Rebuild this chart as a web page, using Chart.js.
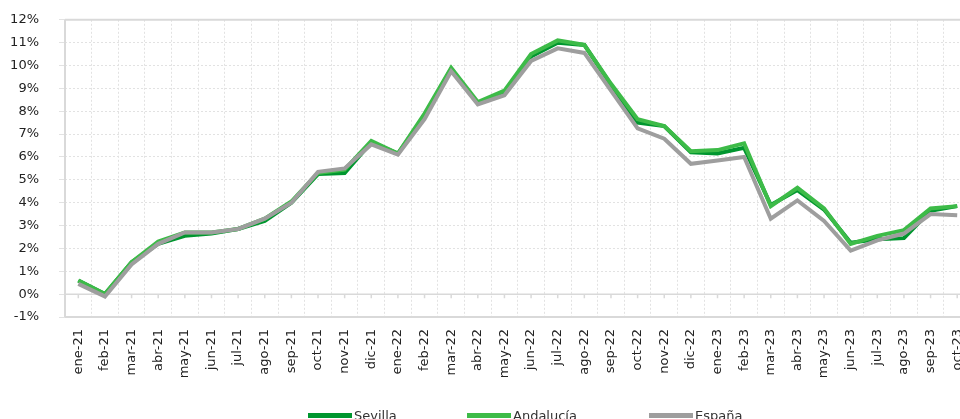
<!DOCTYPE html>
<html lang="es">
<head>
<meta charset="utf-8">
<title>IPC Sevilla, Andalucía, España</title>
<script src="https://cdn.jsdelivr.net/npm/chart.js@4.4.1/dist/chart.umd.min.js"></script>
<style>
  html, body { margin: 0; padding: 0; background: #fff; overflow: hidden; }
  #wrap { position: relative; width: 960px; height: 419px; overflow: hidden; }
  #chart { position: absolute; left: 0; top: -8px; }
  #legend { position: absolute; left: 0; top: 406px; width: 960px; height: 20px; font: 13px "DejaVu Sans", sans-serif; color: #333; }
  #legend .item { position: absolute; top: 0; display: flex; align-items: center; height: 18px; white-space: nowrap; }
  #legend .swatch { width: 44px; height: 5px; margin-right: 2px; }
</style>
</head>
<body>
<div id="wrap">
  <canvas id="chart" width="985" height="419" style="width:985px;height:419px"></canvas>
  <div id="legend"></div>
</div>
<script>
const months = [
    'ene-21', 'feb-21', 'mar-21', 'abr-21', 'may-21', 'jun-21', 'jul-21', 'ago-21', 'sep-21', 'oct-21', 'nov-21', 'dic-21',
    'ene-22', 'feb-22', 'mar-22', 'abr-22', 'may-22', 'jun-22', 'jul-22', 'ago-22', 'sep-22', 'oct-22', 'nov-22', 'dic-22',
    'ene-23', 'feb-23', 'mar-23', 'abr-23', 'may-23', 'jun-23', 'jul-23', 'ago-23', 'sep-23', 'oct-23'
];

const sevilla = [
    0.6, 0.0, 1.4, 2.2, 2.55, 2.65, 2.85, 3.2, 4.0, 5.25, 5.3, 6.65,
    6.15, 7.8, 9.85, 8.35, 8.85, 10.4, 11.0, 10.9, 9.15, 7.5, 7.35, 6.2,
    6.15, 6.4, 3.9, 4.55, 3.7, 2.25, 2.4, 2.45, 3.65, 3.85
];
const andalucia = [
    0.6, 0.0, 1.4, 2.3, 2.7, 2.7, 2.85, 3.3, 4.05, 5.3, 5.45, 6.7,
    6.15, 7.9, 9.9, 8.4, 8.9, 10.5, 11.1, 10.9, 9.2, 7.65, 7.35, 6.25,
    6.3, 6.6, 3.85, 4.65, 3.75, 2.2, 2.55, 2.8, 3.75, 3.85
];
const espana = [
    0.45, -0.1, 1.3, 2.2, 2.7, 2.7, 2.85, 3.3, 4.0, 5.35, 5.5, 6.55,
    6.1, 7.65, 9.75, 8.3, 8.7, 10.2, 10.75, 10.55, 8.9, 7.25, 6.8, 5.7,
    5.85, 6.0, 3.3, 4.1, 3.2, 1.9, 2.35, 2.65, 3.5, 3.45
];

const yMin = -1, yMax = 12;
const FONT = 'DejaVu Sans';
const legendLeft = [308, 467, 649];

// frame of the plot area + zero axis with its little ticks
const framePlugin = {
    id: 'frame',
    beforeDatasetsDraw(chart) {
        const { ctx, chartArea: a, scales: { x, y } } = chart;
        ctx.save();
        ctx.strokeStyle = '#d9d9d9';
        ctx.lineWidth = 2;
        ctx.beginPath();
        ctx.moveTo(a.left, a.top); ctx.lineTo(a.right, a.top);
        ctx.moveTo(a.left, a.top); ctx.lineTo(a.left, a.bottom);
        ctx.moveTo(a.left, a.bottom); ctx.lineTo(a.right, a.bottom);
        ctx.stroke();
        const y0 = y.getPixelForValue(0);
        ctx.lineWidth = 1.5;
        ctx.beginPath();
        ctx.moveTo(a.left, y0); ctx.lineTo(a.right, y0);
        months.forEach((m, i) => {
            const px = x.getPixelForValue(i);
            ctx.moveTo(px, y0); ctx.lineTo(px, y0 + 4);
        });
        ctx.stroke();
        ctx.restore();
    }
};

const series = (label, data, color, order) => ({
    label, data, order,
    borderColor: color,
    backgroundColor: color,
    borderWidth: 4,
    pointRadius: 0,
    tension: 0,
    borderJoinStyle: 'miter'
});

const chart = new Chart(document.getElementById('chart'), {
    type: 'line',
    data: {
        labels: months,
        datasets: [
            series('Sevilla', sevilla, '#00962f', 3),
            series('Andalucía', andalucia, '#3dbb48', 2),
            series('España', espana, '#9e9e9e', 1)
        ]
    },
    options: {
        responsive: false,
        animation: false,
        layout: { padding: { top: 10, right: 13, left: 0, bottom: 0 } },
        plugins: {
            tooltip: { enabled: false },
            legend: { display: false }
        },
        scales: {
            x: {
                offset: true,
                grid: { offset: true, drawTicks: false, color: '#e2e2e2' },
                border: { display: false, dash: [2, 2] },
                ticks: {
                    autoSkip: false,
                    minRotation: 90,
                    maxRotation: 90,
                    padding: 12,
                    color: '#222',
                    font: { family: FONT, size: 13 }
                },
                afterFit: s => { s.height = 94; }
            },
            y: {
                min: yMin,
                max: yMax,
                grid: { color: '#e2e2e2', tickLength: 6 },
                border: { display: false, dash: [2, 2] },
                ticks: {
                    stepSize: 1,
                    padding: 20,
                    color: '#222',
                    font: { family: FONT, size: 13 },
                    callback: v => v + '%'
                },
                afterFit: s => { s.width = 65; }
            }
        }
    },
    plugins: [framePlugin]
});

// legend below the axis, built from the datasets
document.getElementById('legend').innerHTML = chart.data.datasets.map((d, i) => `
    <div class="item" style="left:${legendLeft[i]}px">
        <span class="swatch" style="background:${d.borderColor}"></span><span>${d.label}</span>
    </div>
`).join('');
</script>
</body>
</html>
